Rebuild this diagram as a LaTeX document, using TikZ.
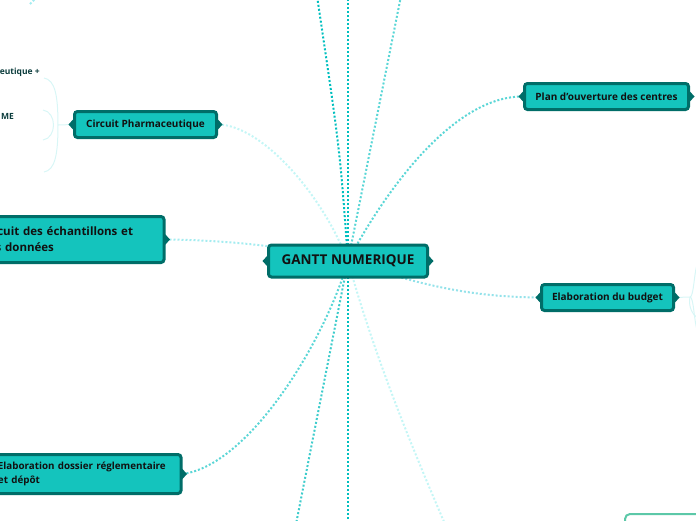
\documentclass[tikz,border=0pt]{standalone}
\usepackage{fontspec}
\setmainfont{Open Sans}
\usetikzlibrary{backgrounds,calc}
\definecolor{tfill}{HTML}{14C4BD}
\definecolor{tborder}{HTML}{006D68}
\definecolor{ttext}{HTML}{111111}
\definecolor{subtext}{HTML}{0B3C3C}
\definecolor{cdark}{HTML}{00BFBF}
\definecolor{cmid}{HTML}{3ECCCC}
\definecolor{cmid2}{HTML}{5AD6D6}
\definecolor{clight}{HTML}{A4ECF0}
\definecolor{clight2}{HTML}{94E2EA}
\definecolor{cpale}{HTML}{C4F6F6}
\definecolor{cghost}{HTML}{D8F6F6}
\definecolor{cgreen}{HTML}{5CC8A8}
\begin{document}
\begin{tikzpicture}[x=1pt,y=-1pt,
  topic/.style={draw=tborder, fill=tfill, line width=3pt, rounded corners=3pt,
    text=ttext, font=\bfseries\fontsize{10}{14}\selectfont, inner sep=0pt},
  multi/.style={align=left, inner xsep=13pt, inner ysep=0pt},
  sub/.style={text=subtext, font=\bfseries\fontsize{8.5}{10}\selectfont, inner sep=0pt},
  conn/.style={line width=2pt, dash pattern=on 2pt off 2pt},
  ghost/.style={draw=cghost, line width=1pt},
]
\useasboundingbox (0,0) rectangle (696,520);

% nodes
\node[topic, minimum width=159pt, minimum height=32pt,
  font=\bfseries\fontsize{13.5}{14}\selectfont] (c) at (348,261) {GANTT NUMERIQUE};
\node[topic, minimum width=164pt, minimum height=26pt] (plan) at (606.5,96.5) {Plan d'ouverture des centres};
\node[topic, minimum width=142pt, minimum height=26pt] (pharma) at (145.5,124.5) {Circuit Pharmaceutique};
\node[topic, minimum width=132pt, minimum height=26pt] (budget) at (607.5,297.5) {Elaboration du budget};
\node[topic, multi, text width=169.5pt, minimum height=46pt, anchor=east,
  font=\bfseries\fontsize{11.5}{16}\selectfont] (ech) at (165.5,239.5)
  {Circuit des échantillons et\\des données};
\node[topic, multi, text width=170pt, minimum height=39pt, anchor=east,
  font=\bfseries\fontsize{9.8}{14}\selectfont] (dos) at (182.5,474)
  {Elaboration dossier réglementaire\\et dépôt};

% brace notches
\foreach \n in {c,plan,pharma,budget,ech,dos}{
  \fill[tborder] ($(\n.west)+(0.5,-5.5)$) -- ($(\n.west)+(-4.5,0)$) -- ($(\n.west)+(0.5,5.5)$) -- cycle;
  \fill[tborder] ($(\n.east)+(-0.5,-5.5)$) -- ($(\n.east)+(4.5,0)$) -- ($(\n.east)+(-0.5,5.5)$) -- cycle;
}

% sub topics (cut off at the left edge)
\node[sub, anchor=east] (s1) at (40,72) {eutique +};
\node[sub, anchor=east] (s2) at (14,116) {ME};

% free ends
\coordinate (t1) at (317,-4);
\coordinate (t2) at (348,-4);
\coordinate (t3) at (401,-4);
\coordinate (b1) at (296,524);
\coordinate (b2) at (348,524);
\coordinate (b3) at (445,524);
\coordinate (p0) at (58,125);
\coordinate (p1) at (44,78);
\coordinate (p2) at (44,172);
\coordinate (p3) at (43,110);
\coordinate (p4) at (43,140);
\coordinate (q0) at (690,297);
\coordinate (q1) at (698,262);
\coordinate (q2) at (698,332);
\coordinate (q3) at (698,318);
\coordinate (tl1) at (30,4);
\coordinate (tl2) at (36,-2);
\coordinate (g1) at (698,514);
\coordinate (g2) at (625,514);
\coordinate (g3) at (625,524);

\begin{pgfonlayer}{background}
  \draw[conn, cdark] (c.center) .. controls (340,150) .. (t1);
  \draw[conn, cdark] (c.center) -- (t2);
  \draw[conn, cmid2] (c.center) -- (t3);
  \draw[conn, cmid2] (c.center) .. controls (380,200) and (450,96) .. (plan.west);
  \draw[conn, cpale] (pharma.east) .. controls (260,125) and (320,190) .. (c.center);
  \draw[conn, clight] (ech.east) .. controls (230,240) and (300,248) .. (c.center);
  \draw[conn, clight2] (c.center) .. controls (420,285) and (470,297) .. (budget.west);
  \draw[conn, cmid2] (dos.east) .. controls (250,465) and (325,340) .. (c.center);
  \draw[conn, cmid] (c.center) -- (b1);
  \draw[conn, cdark] (c.center) -- (b2);
  \draw[conn, cpale] (c.center) .. controls (370,340) and (400,420) .. (b3);
  \draw[conn, clight] (tl1) -- (tl2);
  % faint sub-branches
  \draw[ghost] (pharma.west) -- (p0);
  \draw[ghost] (p0) .. controls (58,95) and (55,80) .. (p1);
  \draw[ghost] (p0) .. controls (58,155) and (55,170) .. (p2);
  \draw[ghost] (p3) .. controls (57,112) and (57,138) .. (p4);
  \draw[ghost] (budget.east) -- (q0);
  \draw[ghost] (q0) .. controls (694,297) and (694,270) .. (q1);
  \draw[ghost] (q0) .. controls (694,297) and (694,325) .. (q2);
  \draw[ghost] (q0) .. controls (688,305) and (692,315) .. (q3);
\end{pgfonlayer}

% partial node at bottom right
\draw[cgreen, line width=2pt, rounded corners=5pt] (g1) -- (g2) -- (g3);
\end{tikzpicture}
\end{document}
